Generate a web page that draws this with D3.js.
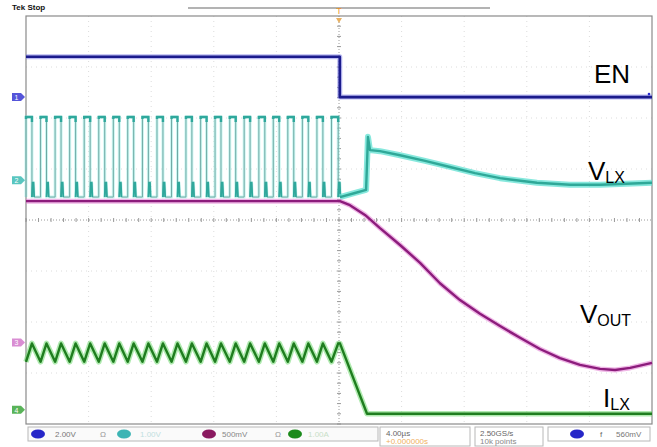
<!DOCTYPE html>
<html><head><meta charset="utf-8">
<script src="https://cdn.jsdelivr.net/npm/d3@7"></script>
<style>body{margin:0;background:#fff;} svg{display:block;font-family:"Liberation Sans",Arial,sans-serif;}</style>
</head><body><svg id="c" width="657" height="447"></svg>
<script>
// ---- data (time in µs, trace position in divisions) ----
const xDomain = [-20, 20];
const yDomain = [-4, 4];
const enTimes  = [-20, 0.05, 0.05, 20];
const enValues = [3.2, 3.2, 2.41, 2.41];
const vlxRise = [-20.0,-19.07,-18.14,-17.21,-16.28,-15.35,-14.42,-13.50,-12.56,-11.63,-10.70,-9.78,-8.84,-7.92,-6.98,-6.06,-5.12,-4.20,-3.27,-2.34,-1.41,-0.48];
const vlxFall = [-19.62,-18.69,-17.76,-16.83,-15.90,-14.97,-14.04,-13.12,-12.18,-11.25,-10.32,-9.40,-8.46,-7.54,-6.60,-5.68,-4.74,-3.82,-2.89,-1.96,-1.03,-0.05];
const vlxHigh = 2.02, vlxLow = 0.45, vlxRing = 0.73;
const vlxAfterT = [0.06, 1.02, 1.73, 1.85, 1.98, 2.62, 3.90, 5.50, 7.09, 8.69, 10.29, 12.65, 14.76, 16.68, 20.0];
const vlxAfterV = [0.45, 0.53, 0.59, 1.63, 1.37, 1.35, 1.27, 1.16, 1.04, 0.92, 0.82, 0.73, 0.69, 0.69, 0.73];
const voutT = [-20, 0.06, 0.70, 1.66, 2.62, 3.90, 5.18, 6.45, 7.73, 9.01, 10.29, 11.57, 12.84, 14.12, 15.40, 16.68, 17.64, 18.60, 20.0];
const voutV = [0.37, 0.37, 0.29, 0.10, -0.16, -0.49, -0.84, -1.24, -1.57, -1.84, -2.08, -2.31, -2.53, -2.71, -2.84, -2.92, -2.94, -2.90, -2.80];
const ilxPeak = -2.42, ilxTrough = -2.78;
const ilxAfterT = [0.06, 1.79, 20];
const ilxAfterV = [-2.42, -3.80, -3.80];
const labels = [
  {main:"EN", sub:"", x:594, y:83},
  {main:"V", sub:"LX", x:588, y:180},
  {main:"V", sub:"OUT", x:580, y:323},
  {main:"I", sub:"LX", x:603, y:407}
];

// ---- layout ----
const svg = d3.select("#c");
const L = 26, R = 652, T = 16, B = 424;
const x = d3.scaleLinear().domain(xDomain).range([L, R]);
const y = d3.scaleLinear().domain(yDomain).range([B, T]);
const line = d3.line().x(d => x(d[0])).y(d => y(d[1]));

// grid
const g = svg.append("g");
for (let i = 1; i < 10; i++) {
  const xv = xDomain[0] + i * 4;
  g.append("line").attr("x1", x(xv)).attr("x2", x(xv)).attr("y1", T).attr("y2", B)
   .attr("stroke", i===5 ? "#9a9a9a" : "#dcdcdc").attr("stroke-dasharray", i===5 ? "1,2" : "1,4");
}
for (let j = 1; j < 8; j++) {
  const yv = yDomain[0] + j;
  g.append("line").attr("x1", L).attr("x2", R).attr("y1", y(yv)).attr("y2", y(yv))
   .attr("stroke", j===4 ? "#9a9a9a" : "#dcdcdc").attr("stroke-dasharray", j===4 ? "1,2" : "1,4");
}
for (let t = xDomain[0]; t <= xDomain[1]; t += 0.8) {
  g.append("line").attr("x1", x(t)).attr("x2", x(t)).attr("y1", y(0)-2).attr("y2", y(0)+2).attr("stroke", "#9a9a9a");
}
for (let v = yDomain[0]; v <= yDomain[1]; v += 0.2) {
  g.append("line").attr("x1", x(0)-2).attr("x2", x(0)+2).attr("y1", y(v)).attr("y2", y(v)).attr("stroke", "#9a9a9a");
}
g.append("rect").attr("x", L).attr("y", T).attr("width", R-L).attr("height", B-T)
 .attr("fill", "none").attr("stroke", "#8a8a8a").attr("stroke-width", 1.2);

function trace(pts, halo, core, hw, cw, ho) {
  svg.append("path").attr("d", line(pts)).attr("fill", "none").attr("stroke", halo)
    .attr("stroke-width", hw).attr("stroke-opacity", ho || 0.55).attr("stroke-linejoin", "round");
  svg.append("path").attr("d", line(pts)).attr("fill", "none").attr("stroke", core)
    .attr("stroke-width", cw).attr("stroke-linejoin", "round");
}

// VLX pulse train points
const vlxPts = [];
vlxRise.forEach((r, k) => {
  const f = vlxFall[k];
  vlxPts.push([r, vlxLow], [r, vlxHigh], [f, vlxHigh], [f, vlxLow],
              [f + 0.04, vlxRing], [f + 0.1, vlxRing], [f + 0.14, vlxLow]);
  if (k + 1 < vlxRise.length) vlxPts.push([vlxRise[k+1], vlxLow]);
});
const vlxAfter = vlxAfterT.map((t, i) => [t, vlxAfterV[i]]);

// ILX points
const ilxPts = [];
vlxRise.forEach((r, k) => { ilxPts.push([r, ilxTrough], [vlxFall[k], ilxPeak]); });
ilxAfterT.forEach((t, i) => ilxPts.push([t, ilxAfterV[i]]));

// VLX: light halo bands, thin grey-teal edges, thick teal tops and rings
trace(vlxPts, "#a6f0e8", "#6fa8a4", 3, 1, 0.6);
vlxRise.forEach((r, k) => {
  const f = vlxFall[k];
  svg.append("path").attr("d", line([[r, vlxHigh - 0.04], [r, vlxHigh], [f, vlxHigh], [f, vlxHigh - 0.1]]))
    .attr("fill", "none").attr("stroke", "#2fa89c").attr("stroke-width", 2.4);
  svg.append("path").attr("d", line([[f, vlxLow], [f + 0.04, vlxRing], [f + 0.1, vlxRing], [f + 0.14, vlxLow]]))
    .attr("fill", "none").attr("stroke", "#2fa89c").attr("stroke-width", 1.8);
});
trace(vlxAfter, "#5fe0d2", "#2fa898", 6, 2.4, 0.75);
trace(voutT.map((t, i) => [t, voutV[i]]), "#e27ad2", "#8c1c7c", 5, 2.4);
trace(ilxPts, "#6fd86f", "#1f7d1f", 5.5, 2.4);
trace(enTimes.map((t, i) => [t, enValues[i]]), "#7f80e6", "#1b1b8c", 5, 2.6);

// labels
labels.forEach(l => {
  const t = svg.append("text").attr("x", l.x).attr("y", l.y).attr("font-size", 26).attr("fill", "#000");
  t.append("tspan").text(l.main);
  if (l.sub) t.append("tspan").attr("font-size", 16).attr("dy", 3).text(l.sub);
});

// channel markers on left
const markers = [{v:2.41, c:"#2a2ad0", n:"1"}, {v:0.78, c:"#30b8b0", n:"2"}, {v:-2.40, c:"#d070c8", n:"3"}, {v:-3.72, c:"#30a030", n:"4"}];
markers.forEach(m => {
  const yy = y(m.v);
  svg.append("path").attr("d", `M12,${yy-4}h9l4,4l-4,4h-9z`).attr("fill", m.c).attr("opacity", 0.8);
  svg.append("text").attr("x", 14.5).attr("y", yy+3).attr("font-size", 7).attr("fill", "#fff").text(m.n);
});
svg.append("circle").attr("cx", 649).attr("cy", y(2.41) - 3).attr("r", 1.3).attr("fill", "#2a2ad0");

// top bar
svg.append("text").attr("x", 12).attr("y", 10).attr("font-size", 8).attr("font-weight", "bold").attr("fill", "#111").text("Tek Stop");
svg.append("line").attr("x1", 188).attr("x2", 490).attr("y1", 8).attr("y2", 8).attr("stroke", "#9a9a9a").attr("stroke-width", 1.5);
svg.append("text").attr("x", x(0)).attr("y", 14).attr("text-anchor", "middle").attr("font-size", 9).attr("fill", "#e8902a").text("T");
svg.append("path").attr("d", `M${x(0)-3},18h6l-3,5z`).attr("fill", "#e8b060");

// bottom status bar
const sb = svg.append("g");
sb.append("rect").attr("x", 28).attr("y", 427).attr("width", 350).attr("height", 14).attr("fill", "#fafafa").attr("stroke", "#b8b8b8");
sb.append("rect").attr("x", 380).attr("y", 427).attr("width", 90).attr("height", 19).attr("fill", "#fff").attr("stroke", "#b8b8b8");
sb.append("rect").attr("x", 475).attr("y", 427).attr("width", 68).attr("height", 19).attr("fill", "#fff").attr("stroke", "#b8b8b8");
sb.append("rect").attr("x", 548).attr("y", 427).attr("width", 102).attr("height", 14).attr("fill", "#fff").attr("stroke", "#b8b8b8");
const ovals = [{cx:38, c:"#2626c8"}, {cx:124, c:"#3cb4b4"}, {cx:209, c:"#8a1a60"}, {cx:295, c:"#1a8a1a"}, {cx:577, c:"#2626c8"}];
ovals.forEach(o => sb.append("ellipse").attr("cx", o.cx).attr("cy", 434).attr("rx", 7).attr("ry", 4.5).attr("fill", o.c));
const stxt = [
  {x:55, y:437, t:"2.00V", c:"#777"}, {x:100, y:437, t:"Ω", c:"#999"}, {x:140, y:437, t:"1.00V", c:"#bfe0e0"},
  {x:222, y:437, t:"500mV", c:"#888"}, {x:275, y:437, t:"Ω", c:"#999"}, {x:308, y:437, t:"1.00A", c:"#c8e0c8"},
  {x:386, y:436, t:"4.00µs", c:"#666"}, {x:386, y:444, t:"+0.000000s", c:"#f0b060"},
  {x:480, y:436, t:"2.50GS/s", c:"#666"}, {x:480, y:444, t:"10k points", c:"#888"},
  {x:600, y:437, t:"f", c:"#666"}, {x:616, y:437, t:"560mV", c:"#777"}
];
stxt.forEach(s => sb.append("text").attr("x", s.x).attr("y", s.y).attr("font-size", 8).attr("fill", s.c).text(s.t));
</script></body></html>
